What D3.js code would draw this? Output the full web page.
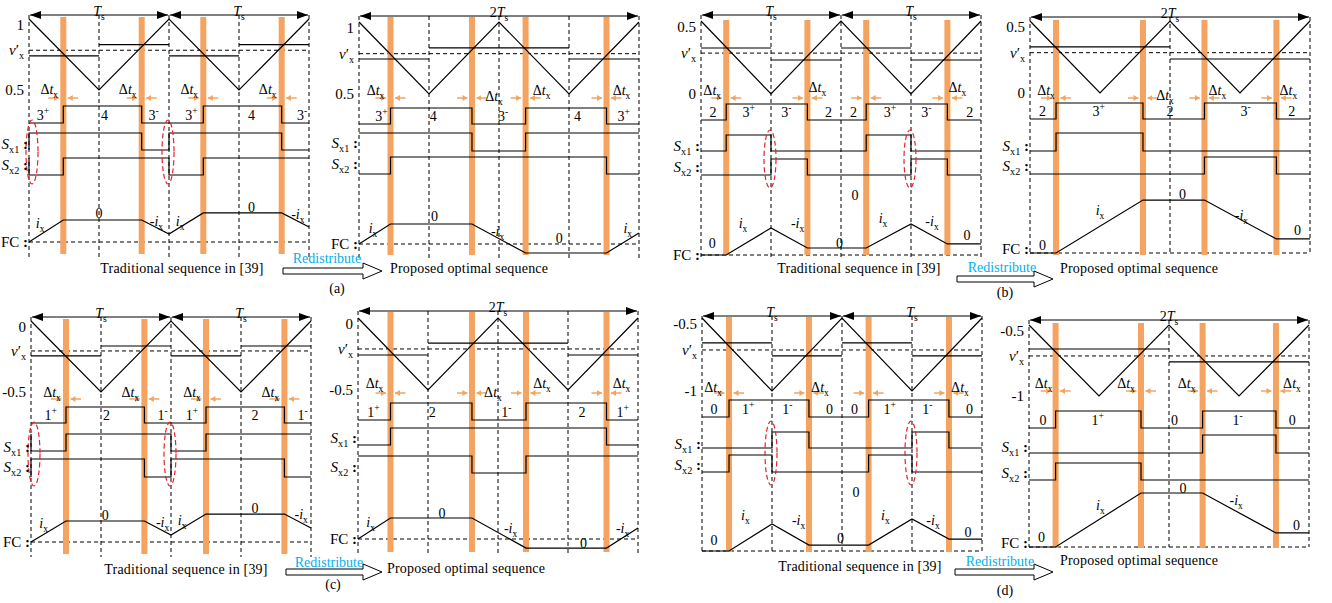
<!DOCTYPE html>
<html>
<head>
<meta charset="utf-8">
<script src="https://cdn.jsdelivr.net/npm/d3@7"></script>
<style>
  body { margin: 0; background: #fff; }
  svg { display: block; background: #fff; }
  text { font-family: "Liberation Serif", "Times New Roman", serif; fill: #000; }
</style>
</head>
<body>
<svg width="1332" height="603"></svg>
<script>
// time axis of every sub-diagram runs 0..2 (in units of Ts)

// carrier ranges and tick labels per panel
const rangeA = [0.5, 1], ticksA = ['1', '0.5'];
const rangeB = [0, 0.5], ticksB = ['0.5', '0'];
const rangeC = [-0.5, 0], ticksC = ['0', '-0.5'];
const rangeD = [-1, -0.5], ticksD = ['-0.5', '-1'];

// triangular carriers [t, value]
const carA = [[0, 1], [0.5, 0.5], [1, 1], [1.5, 0.5], [2, 1]];
const carB = [[0, 0.5], [0.5, 0], [1, 0.5], [1.5, 0], [2, 0.5]];
const carC = [[0, 0], [0.5, -0.5], [1, 0], [1.5, -0.5], [2, 0]];
const carD = [[0, -0.5], [0.5, -1], [1, -0.5], [1.5, -1], [2, -0.5]];

const gridQ = [0, 0.5, 1, 1.5, 2];
const gridH = [0, 1, 2];
const tradSpans = [[0, 1], [1, 2]];
const propSpans = [[0, 2]];

// ---- (a) traditional
const barsA1 = [0.245, 0.805, 1.245, 1.805];
const vxA1 = [[0, 0.5, 0.74], [0.5, 1, 0.82], [1, 1.5, 0.74], [1.5, 2, 0.82]];
const seqA1 = [[0, 0], [0.245, 1], [0.805, 0], [1.245, 1], [1.805, 0], [2, 0]];
const seqLabA1 = [['3', '+', 0.1], ['4', '', 0.54], ['3', '-', 0.89], ['3', '+', 1.16], ['4', '', 1.59], ['3', '-', 1.95]];
const s1A1 = [[0, 0], [0, 1], [0.805, 0], [1, 1], [1.805, 0], [2, 0]];
const s2A1 = [[0, 1], [0, 0], [0.245, 1], [1, 0], [1.245, 1], [2, 1]];
const fcA1 = [[0, 0], [0.245, 1], [0.805, 1], [1, 0.36], [1.245, 1.32], [1.805, 1.32], [2, 0.68]];
const fcLabA1 = [['ix', 0.08, 0.86], ['0', 0.5, 1.32], ['-ix', 0.91, 0.95], ['ix', 1.08, 0.95], ['0', 1.59, 1.59], ['-ix', 1.92, 1.27]];
const ellA1 = [0, 1];

// ---- (a) proposed
const barsA2 = [0.225, 0.807, 1.19, 1.768];
const vxA2 = [[0, 0.5, 0.743], [0.5, 1.5, 0.82], [1.5, 2, 0.743]];
const seqA2 = [[0, 0], [0.225, 1], [0.807, 0], [1.19, 1], [1.768, 0], [2, 0]];
const seqLabA2 = [['3', '+', 0.16], ['4', '', 0.53], ['3', '-', 1.03], ['4', '', 1.56], ['3', '+', 1.89]];
const s1A2 = [[0, 1], [0.807, 0], [1.19, 1], [2, 1]];
const s2A2 = [[0, 0], [0.225, 1], [1.768, 0], [2, 0]];
const fcA2 = [[0, 0], [0.225, 1], [0.807, 1], [1.19, -0.45], [1.768, -0.45], [2, 0.55]];
const fcLabA2 = [['ix', 0.1, 0.8], ['0', 0.54, 1.4], ['-ix', 0.99, 0.65], ['0', 1.43, 0.3], ['ix', 1.92, 0.8]];

// ---- (b) traditional
const barsB1 = [0.18, 0.76, 1.18, 1.76];
const vxB1 = [[0, 0.5, 0.315], [0.5, 1, 0.233], [1, 1.5, 0.315], [1.5, 2, 0.233]];
const seqB1 = [[0, 0], [0.18, 1], [0.76, 0], [1.18, 1], [1.76, 0], [2, 0]];
const seqLabB1 = [['2', '', 0.086], ['3', '+', 0.34], ['3', '-', 0.61], ['2', '', 0.91], ['2', '', 1.09], ['3', '+', 1.35], ['3', '-', 1.61], ['2', '', 1.92]];
const s1B1 = [[0, 0], [0.18, 1], [0.5, 0], [1.18, 1], [1.5, 0], [2, 0]];
const s2B1 = [[0, 0], [0.5, 1], [0.76, 0], [1.5, 1], [1.76, 0], [2, 0]];
const fcB1 = [[0, 0], [0.18, 0], [0.5, 1], [0.76, 0.26], [1.18, 0.26], [1.5, 1.15], [1.76, 0.41], [2, 0.41]];
const fcLabB1 = [['0', 0.08, 0.44], ['ix', 0.3, 1.19], ['-ix', 0.69, 1.19], ['0', 0.99, 0.44], ['ix', 1.3, 1.37], ['-ix', 1.65, 1.26], ['0', 1.9, 0.74], ['0', 1.1, 2.22]];
const ellB1 = [0.5, 1.5];

// ---- (b) proposed
const barsB2 = [0.186, 0.807, 1.246, 1.76];
const vxB2 = [[0, 1, 0.32], [1, 2, 0.236]];
const seqB2 = [[0, 0], [0.186, 1], [0.807, 0], [1.246, 1], [1.76, 0], [2, 0]];
const seqLabB2 = [['2', '', 0.09], ['3', '+', 0.49], ['2', '', 1.0], ['3', '-', 1.54], ['2', '', 1.87]];
const s1B2 = [[0, 0], [0.186, 1], [0.807, 0], [2, 0]];
const s2B2 = [[0, 0], [1.246, 1], [1.76, 0], [2, 0]];
const fcB2 = [[0, 0], [0.186, 0], [0.807, 1.96], [1.246, 1.96], [1.76, 0.52], [2, 0.52]];
const fcLabB2 = [['0', 0.09, 0.3], ['ix', 0.5, 1.6], ['0', 1.09, 2.19], ['-ix', 1.51, 1.41], ['0', 1.91, 0.85]];

// ---- (c) traditional
const barsC1 = [0.25, 0.81, 1.25, 1.81];
const vxC1 = [[0, 0.5, -0.246], [0.5, 1, -0.176], [1, 1.5, -0.246], [1.5, 2, -0.176]];
const seqC1 = [[0, 0], [0.25, 1], [0.81, 0], [1.25, 1], [1.81, 0], [2, 0]];
const seqLabC1 = [['1', '+', 0.14], ['2', '', 0.54], ['1', '-', 0.94], ['1', '+', 1.15], ['2', '', 1.6], ['1', '-', 1.94]];
const s1C1 = [[0, 1], [0, 0], [0.25, 1], [1, 0], [1.25, 1], [2, 1]];
const s2C1 = [[0, 0], [0, 1], [0.81, 0], [1, 1], [1.81, 0], [2, 0]];
const fcC1 = [[0, 0], [0.25, 1], [0.81, 1], [1, 0.33], [1.25, 1.33], [1.81, 1.33], [2, 0.67]];
const fcLabC1 = [['ix', 0.09, 0.9], ['0', 0.53, 1.29], ['-ix', 0.94, 0.95], ['ix', 1.08, 1.05], ['0', 1.6, 1.62], ['-ix', 1.93, 1.33]];
const ellC1 = [0, 1];

// ---- (c) proposed
const barsC2 = [0.232, 0.814, 1.2, 1.775];
const vxC2 = [[0, 0.5, -0.257], [0.5, 1.5, -0.174], [1.5, 2, -0.257]];
const seqC2 = [[0, 0], [0.232, 1], [0.814, 0], [1.2, 1], [1.775, 0], [2, 0]];
const seqLabC2 = [['1', '+', 0.11], ['2', '', 0.53], ['1', '-', 1.06], ['2', '', 1.6], ['1', '+', 1.89]];
const s1C2 = [[0, 0], [0.232, 1], [1.775, 0], [2, 0]];
const s2C2 = [[0, 1], [0.814, 0], [1.2, 1], [2, 1]];
const fcC2 = [[0, 0], [0.232, 1], [0.814, 1], [1.2, -0.43], [1.775, -0.43], [2, 0.52]];
const fcLabC2 = [['ix', 0.09, 0.81], ['0', 0.6, 1.24], ['-ix', 1.09, 0.52], ['0', 1.61, -0.19], ['-ix', 1.89, 0.52]];

// ---- (d) traditional
const barsD1 = [0.193, 0.764, 1.19, 1.764];
const vxD1 = [[0, 0.5, -0.671], [0.5, 1, -0.76], [1, 1.5, -0.671], [1.5, 2, -0.76]];
const seqD1 = [[0, 0], [0.193, 1], [0.764, 0], [1.19, 1], [1.764, 0], [2, 0]];
const seqLabD1 = [['0', '', 0.086], ['1', '+', 0.33], ['1', '-', 0.61], ['0', '', 0.91], ['0', '', 1.09], ['1', '+', 1.34], ['1', '-', 1.61], ['0', '', 1.91]];
const s1D1 = [[0, 0], [0.5, 1], [0.764, 0], [1.5, 1], [1.764, 0], [2, 0]];
const s2D1 = [[0, 0], [0.193, 1], [0.5, 0], [1.19, 1], [1.5, 0], [2, 0]];
const fcD1 = [[0, 0], [0.193, 0], [0.5, 1], [0.764, 0.22], [1.19, 0.22], [1.5, 1.19], [1.764, 0.44], [2, 0.44]];
const fcLabD1 = [['0', 0.086, 0.41], ['ix', 0.31, 1.33], ['-ix', 0.69, 1.15], ['0', 0.99, 0.48], ['ix', 1.31, 1.33], ['-ix', 1.65, 1.15], ['0', 1.9, 0.7], ['0', 1.1, 2.19]];
const ellD1 = [0.5, 1.5];

// ---- (d) proposed
const barsD2 = [0.19, 0.80, 1.24, 1.764];
const vxD2 = [[0, 1, -0.669], [1, 2, -0.76]];
const seqD2 = [[0, 0], [0.19, 1], [0.80, 0], [1.24, 1], [1.764, 0], [2, 0]];
const seqLabD2 = [['0', '', 0.1], ['1', '+', 0.49], ['0', '', 1.04], ['1', '-', 1.49], ['0', '', 1.88]];
const s1D2 = [[0, 0], [1.24, 1], [1.764, 0], [2, 0]];
const s2D2 = [[0, 0], [0.19, 1], [0.80, 0], [2, 0]];
const fcD2 = [[0, 0], [0.19, 0], [0.80, 2.0], [1.24, 2.0], [1.764, 0.52], [2, 0.52]];
const fcLabD2 = [['0', 0.09, 0.37], ['ix', 0.51, 1.56], ['0', 1.1, 2.19], ['-ix', 1.48, 1.74], ['0', 1.91, 0.81]];

const captionTrad = 'Traditional sequence in [39]';
const captionProp = 'Proposed optimal sequence';
const captionArrow = 'Redistribute';
const panelNames = ['(a)', '(b)', '(c)', '(d)'];

// ---------- layout ----------
const W = 280;
const ORANGE = '#F4A460';
const layA1 = { x0: 29, dy: 0, arrow: 15, carTop: 19, carBot: 90, arrY: 98, dtY: [89, 89, 89, 89], dtDx: [-14, -14, -14, -14], seqHi: 106, seqLo: 123, s1: [150, 133], s2: [175, 158], s1Lab: 144, s2Lab: 165, fcBase: 242, fcUnit: 22, fcLab: 242, barTop: 17, barBot: 254, dashEnd: 257, ellY: 152, ellRy: 32 };
const layA2 = { x0: 359, dy: 0, arrow: 16, carTop: 22, carBot: 94, arrY: 98, dtY: [90, 96, 90, 90], dtDx: [-15, 22, 16, 15], seqHi: 108, seqLo: 124, s1: [151, 133], s2: [174, 157], s1Lab: 143, s2Lab: 164, fcBase: 244, fcUnit: 20, fcLab: 244, barTop: 17, barBot: 255, dashEnd: 258 };
const layB1 = { x0: 701, dy: 0, arrow: 15, carTop: 21, carBot: 94, arrY: 98, dtY: [90, 87, null, 87], dtDx: [-14, 10, 0, 10], seqHi: 104, seqLo: 120, s1: [151, 135], s2: [175, 159], s1Lab: 146, s2Lab: 167, fcBase: 255, fcUnit: 27, fcLab: 255, barTop: 20, barBot: 255, dashEnd: 258, ellY: 159, ellRy: 29 };
const layB2 = { x0: 1030, dy: 0, arrow: 17, carTop: 21, carBot: 93, arrY: 98, dtY: [90, 95, 90, 90], dtDx: [-10, 22, 13, 12], seqHi: 103, seqLo: 119, s1: [151, 133], s2: [174, 157], s1Lab: 146, s2Lab: 166, fcBase: 253, fcUnit: 27, fcLab: 249, barTop: 20, barBot: 255, dashEnd: 255 };
const layC1 = { x0: 31, dy: 302, arrow: 15, carTop: 19, carBot: 90, arrY: 97, dtY: [90, 90, 90, 90], dtDx: [-14, -14, -14, -14], seqHi: 105, seqLo: 121, s1: [149, 132], s2: [175, 157], s1Lab: 145, s2Lab: 165, fcBase: 240, fcUnit: 21, fcLab: 240, barTop: 17, barBot: 252, dashEnd: 255, ellY: 152, ellRy: 32 };
const layC2 = { x0: 358, dy: 302, arrow: 9, carTop: 16, carBot: 88, arrY: 91, dtY: [81, 90, 81, 81], dtDx: [-16, 21, 16, 15], seqHi: 101, seqLo: 118, s1: [143, 126], s2: [171, 154], s1Lab: 136, s2Lab: 165, fcBase: 237, fcUnit: 21, fcLab: 237, barTop: 10, barBot: 250, dashEnd: 252 };
const layD1 = { x0: 702, dy: 302, arrow: 14, carTop: 16, carBot: 89, arrY: 91, dtY: [85, 85, null, 85], dtDx: [-16, 11, 0, 11], seqHi: 98, seqLo: 115, s1: [146, 130], s2: [170, 153], s1Lab: 142, s2Lab: 163, fcBase: 249, fcUnit: 27, fcLab: null, barTop: 15, barBot: 250, dashEnd: 250, ellY: 151, ellRy: 32 };
const layD2 = { x0: 1029, dy: 302, arrow: 18, carTop: 23, carBot: 94, arrY: 89, dtY: [81, 81, 81, 81], dtDx: [-12, -15, -16, 16], seqHi: 109, seqLo: 126, s1: [151, 133], s2: [178, 161], s1Lab: 145, s2Lab: 171, fcBase: 245, fcUnit: 27, fcLab: 241, barTop: 21, barBot: 246, dashEnd: 245 };

const diagrams = [
  { L: layA1, grid: gridQ, spans: tradSpans, range: rangeA, ticks: ticksA, car: carA, vx: vxA1, vxAvg: 0.78, bars: barsA1, seq: seqA1, seqLab: seqLabA1, s1: s1A1, s2: s2A1, fc: fcA1, fcLab: fcLabA1, ell: ellA1 },
  { L: layA2, grid: gridQ, spans: propSpans, range: rangeA, ticks: ticksA, car: carA, vx: vxA2, vxAvg: 0.78, bars: barsA2, seq: seqA2, seqLab: seqLabA2, s1: s1A2, s2: s2A2, fc: fcA2, fcLab: fcLabA2, ell: [] },
  { L: layB1, grid: gridQ, spans: tradSpans, range: rangeB, ticks: ticksB, car: carB, vx: vxB1, vxAvg: 0.28, bars: barsB1, seq: seqB1, seqLab: seqLabB1, s1: s1B1, s2: s2B1, fc: fcB1, fcLab: fcLabB1, ell: ellB1 },
  { L: layB2, grid: gridH, spans: propSpans, range: rangeB, ticks: ticksB, car: carB, vx: vxB2, vxAvg: 0.28, bars: barsB2, seq: seqB2, seqLab: seqLabB2, s1: s1B2, s2: s2B2, fc: fcB2, fcLab: fcLabB2, ell: [] },
  { L: layC1, grid: gridQ, spans: tradSpans, range: rangeC, ticks: ticksC, car: carC, vx: vxC1, vxAvg: -0.211, bars: barsC1, seq: seqC1, seqLab: seqLabC1, s1: s1C1, s2: s2C1, fc: fcC1, fcLab: fcLabC1, ell: ellC1 },
  { L: layC2, grid: gridQ, spans: propSpans, range: rangeC, ticks: ticksC, car: carC, vx: vxC2, vxAvg: -0.215, bars: barsC2, seq: seqC2, seqLab: seqLabC2, s1: s1C2, s2: s2C2, fc: fcC2, fcLab: fcLabC2, ell: [] },
  { L: layD1, grid: gridQ, spans: tradSpans, range: rangeD, ticks: ticksD, car: carD, vx: vxD1, vxAvg: -0.719, bars: barsD1, seq: seqD1, seqLab: seqLabD1, s1: s1D1, s2: s2D1, fc: fcD1, fcLab: fcLabD1, ell: ellD1 },
  { L: layD2, grid: gridH, spans: propSpans, range: rangeD, ticks: ticksD, car: carD, vx: vxD2, vxAvg: -0.718, bars: barsD2, seq: seqD2, seqLab: seqLabD2, s1: s1D2, s2: s2D2, fc: fcD2, fcLab: fcLabD2, ell: [] }
];

// caption positions per panel
const captionPos = [
  { trad: [182, 268], red: [327, 258], arr: [283, 382, 271], prop: [390, 268], lab: [337, 288] },
  { trad: [859, 268], red: [1002, 267], arr: [957, 1053, 279], prop: [1060, 268], lab: [1005, 292] },
  { trad: [186, 569], red: [329, 562], arr: [286, 382, 572], prop: [387, 568], lab: [333, 584] },
  { trad: [860, 566], red: [1000, 561], arr: [955, 1053, 572], prop: [1060, 560], lab: [1005, 590] }
];

// ---------- text helpers ----------
function P(s, o) { return Object.assign({ s }, o || {}); }
const TXT = {
  Ts: [P('T', { i: 1 }), P('s', { sub: 1 })],
  T2: [P('2'), P('T', { i: 1 }), P('s', { sub: 1 })],
  vx: [P('v', { i: 1 }), P('′'), P('x', { sub: 1 })],
  s1: [P('S', { i: 1 }), P('x1', { sub: 1 }), P(' :', { b: 1 })],
  s2: [P('S', { i: 1 }), P('x2', { sub: 1 }), P(' :', { b: 1 })],
  fc: [P('FC'), P(' :', { b: 1 })],
  dt: [P('Δ'), P('t', { i: 1 }), P('x', { sub: 1 })],
  ix: [P('i', { i: 1 }), P('x', { sub: 1 })],
  '-ix': [P('-'), P('i', { i: 1 }), P('x', { sub: 1 })],
  '0': [P('0')]
};

function rich(g, x, y, parts, anchor, size) {
  size = size || 14;
  const t = g.append('text').attr('x', x).attr('y', y)
    .attr('text-anchor', anchor || 'middle').attr('font-size', size);
  let cur = 0;
  parts.forEach((p) => {
    const want = p.sub ? size * 0.28 : p.sup ? -size * 0.4 : 0;
    const sp = t.append('tspan').text(p.s);
    if (want !== cur) sp.attr('dy', want - cur);
    cur = want;
    if (p.i) sp.attr('font-style', 'italic');
    if (p.b) sp.attr('font-weight', 'bold');
    if (p.sub || p.sup) sp.attr('font-size', size * 0.68);
  });
  return t;
}

const svg = d3.select('svg');
const defs = svg.append('defs');
function marker(id, color, w, h) {
  defs.append('marker').attr('id', id)
    .attr('viewBox', `0 0 ${w} ${h}`)
    .attr('refX', w).attr('refY', h / 2)
    .attr('markerWidth', w).attr('markerHeight', h)
    .attr('markerUnits', 'userSpaceOnUse')
    .attr('orient', 'auto-start-reverse')
    .append('path').attr('d', `M0,0L${w},${h / 2}L0,${h}Z`).attr('fill', color);
}
marker('blk', '#000', 11, 8);
marker('org', ORANGE, 5, 6);

function drawDiagram(D) {
  const L = D.L;
  const g = svg.append('g').attr('transform', `translate(0,${L.dy})`);
  const x = d3.scaleLinear().domain([0, 2]).range([L.x0, L.x0 + W]);
  const yCar = d3.scaleLinear().domain(D.range).range([L.carBot, L.carTop]);
  const ySeq = d3.scaleLinear().domain([0, 1]).range([L.seqLo, L.seqHi]);
  const yS1 = d3.scaleLinear().domain([0, 1]).range(L.s1);
  const yS2 = d3.scaleLinear().domain([0, 1]).range(L.s2);
  const yFc = d3.scaleLinear().domain([0, 1]).range([L.fcBase, L.fcBase - L.fcUnit]);

  // dashed guides
  g.selectAll('line.grid').data(D.grid).join('line').attr('class', 'grid')
    .attr('x1', (t) => x(t)).attr('x2', (t) => x(t))
    .attr('y1', L.arrow).attr('y2', L.dashEnd)
    .attr('stroke', '#000').attr('stroke-width', 1).attr('stroke-dasharray', '4,3');
  [yCar(D.vxAvg), yFc(0)].forEach((yy) => {
    g.append('line').attr('x1', x(0)).attr('x2', x(2)).attr('y1', yy).attr('y2', yy)
      .attr('stroke', '#000').attr('stroke-width', 1).attr('stroke-dasharray', '4,3');
  });

  // orange dead-time bars
  g.selectAll('rect.bar').data(D.bars).join('rect').attr('class', 'bar')
    .attr('x', (t) => x(t) - 3).attr('width', 6)
    .attr('y', L.barTop).attr('height', L.barBot - L.barTop)
    .attr('fill', ORANGE);

  // period arrows
  D.spans.forEach(([a, b]) => {
    g.append('line').attr('x1', x(a) + 1).attr('x2', x(b) - 1)
      .attr('y1', L.arrow).attr('y2', L.arrow)
      .attr('stroke', '#000').attr('stroke-width', 1)
      .attr('marker-start', 'url(#blk)').attr('marker-end', 'url(#blk)');
    rich(g, x((a + b) / 2), L.arrow + 1, D.spans.length > 1 ? TXT.Ts : TXT.T2, 'middle', 14);
  });

  const solid = (sel) => sel.attr('fill', 'none').attr('stroke', '#000').attr('stroke-width', 1.2);
  const lineLin = (ys) => d3.line().x((d) => x(d[0])).y((d) => ys(d[1]));
  const lineStep = (ys) => d3.line().x((d) => x(d[0])).y((d) => ys(d[1])).curve(d3.curveStepAfter);

  // carrier and modulating step
  solid(g.append('path').attr('d', lineLin(yCar)(D.car)));
  D.vx.forEach(([a, b, v]) => {
    solid(g.append('line').attr('x1', x(a)).attr('x2', x(b)).attr('y1', yCar(v)).attr('y2', yCar(v)));
  });

  // delta-t arrows and labels
  D.bars.forEach((t, i) => {
    const cx = x(t);
    [[-15, -4.5], [15, 4.5]].forEach(([from, to]) => {
      g.append('line').attr('x1', cx + from).attr('x2', cx + to)
        .attr('y1', L.arrY).attr('y2', L.arrY)
        .attr('stroke', ORANGE).attr('stroke-width', 1.5)
        .attr('marker-end', 'url(#org)');
    });
    if (L.dtY[i] != null) rich(g, cx + L.dtDx[i], L.dtY[i] + 5, TXT.dt, 'middle', 14);
  });

  // switching sequence, Sx1, Sx2
  solid(g.append('path').attr('d', lineStep(ySeq)(D.seq)));
  D.seqLab.forEach(([n, sup, t]) => {
    const parts = [P(n)];
    if (sup) parts.push(P(sup === '-' ? '-' : '+', { sup: 1 }));
    rich(g, x(t), L.seqLo - 3, parts, 'middle', 14);
  });
  solid(g.append('path').attr('d', lineStep(yS1)(D.s1)));
  solid(g.append('path').attr('d', lineStep(yS2)(D.s2)));

  // flying capacitor current
  solid(g.append('path').attr('d', lineLin(yFc)(D.fc)));
  D.fcLab.forEach(([k, t, v]) => rich(g, x(t), yFc(v) + 5, TXT[k], 'middle', 14));

  // red ellipses on the traditional sequence
  D.ell.forEach((t) => {
    g.append('ellipse').attr('cx', x(t) + (t === 0 ? 3 : -1)).attr('cy', L.ellY)
      .attr('rx', 6).attr('ry', L.ellRy)
      .attr('fill', 'none').attr('stroke', '#E8202A').attr('stroke-width', 1.2)
      .attr('stroke-dasharray', '5,3');
  });

  // left-side labels
  rich(g, L.x0 - 5, L.carTop + 11, [P(D.ticks[0])], 'end', 15);
  rich(g, L.x0 - 5, L.carBot + 5, [P(D.ticks[1])], 'end', 15);
  rich(g, L.x0 - 5, yCar(D.vxAvg) + 5, TXT.vx, 'end', 15);
  rich(g, L.x0 - 1, L.s1Lab + 5, TXT.s1, 'end', 15);
  rich(g, L.x0 - 1, L.s2Lab + 5, TXT.s2, 'end', 15);
  if (L.fcLab != null) rich(g, L.x0 - 1, L.fcLab + 5, TXT.fc, 'end', 15);
}

diagrams.forEach(drawDiagram);

// captions, redistribute arrows, panel names
captionPos.forEach((c, i) => {
  svg.append('text').attr('x', c.trad[0]).attr('y', c.trad[1]).attr('dominant-baseline', 'central')
    .attr('text-anchor', 'middle').attr('font-size', 14).attr('letter-spacing', 0.2).text(captionTrad);
  svg.append('text').attr('x', c.prop[0]).attr('y', c.prop[1]).attr('dominant-baseline', 'central')
    .attr('text-anchor', 'start').attr('font-size', 14).attr('letter-spacing', 0.2).text(captionProp);
  svg.append('text').attr('x', c.red[0]).attr('y', c.red[1]).attr('dominant-baseline', 'central')
    .attr('text-anchor', 'middle').attr('font-size', 14).style('fill', '#00B0F0').text(captionArrow);
  const [a0, a1, ay] = c.arr;
  const h = a1 - 19;
  svg.append('path')
    .attr('d', `M${a0},${ay - 3}L${h},${ay - 3}L${h},${ay - 8}L${a1},${ay}L${h},${ay + 8}L${h},${ay + 3}L${a0},${ay + 3}Z`)
    .attr('fill', '#fff').attr('stroke', '#000').attr('stroke-width', 1);
  svg.append('text').attr('x', c.lab[0]).attr('y', c.lab[1]).attr('dominant-baseline', 'central')
    .attr('text-anchor', 'middle').attr('font-size', 14).text(panelNames[i]);
});
</script>
</body>
</html>
